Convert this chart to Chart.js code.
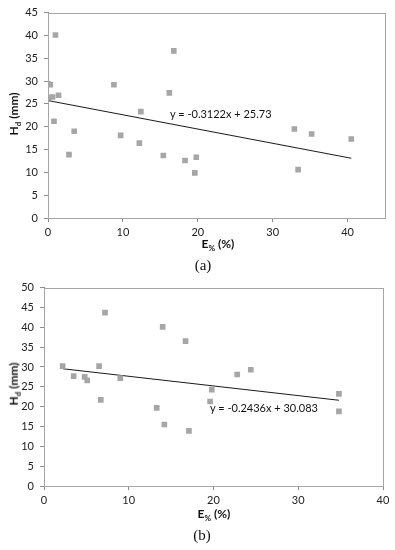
<!DOCTYPE html>
<html>
<head>
<meta charset="utf-8">
<script src="https://cdn.jsdelivr.net/npm/chart.js@4"></script>
<style>
    body { margin: 0; background: #fff; font-family: Lato, sans-serif; }
    .wrap { position: relative; width: 395px; height: 550px; }
    .panel { position: absolute; left: 0; width: 395px; height: 275px; }
    .txt { position: absolute; white-space: nowrap; color: #111; line-height: 1; }
    .ytitle { font-weight: bold; font-size: 12px; transform: translate(-50%, -50%) rotate(-90deg); }
    .xtitle { font-weight: bold; font-size: 12px; transform: translate(-50%, -50%); }
    .eq { font-size: 11px; transform: translateY(-50%); }
    .tag { font-family: "Liberation Serif", serif; font-size: 15px; transform: translate(-50%, -50%); }
    sub { font-size: 8px; }
</style>
</head>
<body>
<div class="wrap">
    <div class="panel" style="top:0"><canvas id="chartA"></canvas></div>
    <div class="panel" style="top:275px"><canvas id="chartB"></canvas></div>

    <div class="txt ytitle" style="left:15px;top:114px">H<sub>d</sub> (mm)</div>
    <div class="txt eq" style="left:170px;top:113px">y = -0.3122x + 25.73</div>
    <div class="txt xtitle" style="left:218px;top:245px">E<sub>%</sub> (%)</div>
    <div class="txt tag" style="left:203px;top:265px">(a)</div>

    <div class="txt ytitle" style="left:15px;top:384px">H<sub>d</sub> (mm)</div>
    <div class="txt eq" style="left:210px;top:407px">y = -0.2436x + 30.083</div>
    <div class="txt xtitle" style="left:214px;top:515px">E<sub>%</sub> (%)</div>
    <div class="txt tag" style="left:202px;top:535px">(b)</div>
</div>
<script>
// panel (a)
const eA = [0, 0.3, 0.1, 0.6, 1.4, 1.0, 0.8, 3.5, 2.8, 9.7, 8.8, 12.4, 12.2, 15.4, 16.2, 16.8, 18.3, 19.6, 19.8, 32.9, 35.2, 40.5, 33.4];
const hA = [29.4, 29.2, 26.4, 26.5, 26.9, 40.1, 21.2, 19.0, 13.9, 18.1, 29.2, 23.3, 16.4, 13.7, 27.4, 36.6, 12.6, 9.9, 13.3, 19.5, 18.4, 17.3, 10.6];
const trendXA = [0, 40.5];
const trendYA = [25.73, 13.09];

// panel (b)
const eB = [2.2, 3.5, 4.8, 5.1, 6.5, 6.7, 7.2, 9.0, 13.3, 14.0, 14.2, 16.7, 17.1, 19.6, 19.8, 22.8, 24.4, 34.8, 34.8];
const hB = [30.2, 27.7, 27.5, 26.6, 30.2, 21.7, 43.7, 27.2, 19.7, 40.1, 15.5, 36.5, 13.9, 21.3, 24.3, 28.1, 29.3, 23.2, 18.8];
const trendXB = [2.2, 34.8];
const trendYB = [29.55, 21.61];

const xTicksA = [0, 10, 20, 30, 40];
const xTicksB = [0, 10, 20, 30, 40];

const AXIS = '#8c8c8c';
const MARK = '#a6a6a6';

const frame = {
    id: 'frame',
    afterDraw(chart) {
        const { ctx, chartArea: a } = chart;
        ctx.save();
        ctx.strokeStyle = '#a6a6a6';
        ctx.lineWidth = 1;
        ctx.strokeRect(Math.round(a.left) + 0.5, Math.round(a.top) + 0.5,
            Math.round(a.right - a.left), Math.round(a.bottom - a.top));
        ctx.restore();
    },
};

function toPoints(xs, ys) {
    return xs.map((x, i) => ({ x, y: ys[i] }));
}

function makeChart(id, cfg) {
    const tickFont = { family: 'Lato', size: 11 };
    return new Chart(document.getElementById(id), {
        type: 'scatter',
        data: {
            datasets: [{
                data: toPoints(cfg.xs, cfg.ys),
                pointStyle: 'rect',
                pointRadius: 4,
                pointHoverRadius: 4,
                backgroundColor: MARK,
                borderWidth: 0,
            }, {
                type: 'line',
                data: toPoints(cfg.tx, cfg.ty),
                borderColor: '#1a1a1a',
                borderWidth: 1,
                pointRadius: 0,
                fill: false,
            }],
        },
        options: {
            responsive: false,
            animation: false,
            events: [],
            layout: { padding: { left: 0, right: cfg.right, top: cfg.top, bottom: 0 } },
            plugins: { legend: { display: false }, tooltip: { enabled: false } },
            scales: {
                x: {
                    type: 'linear',
                    min: 0, max: cfg.xmax,
                    ticks: { stepSize: 10, color: '#222', font: tickFont, padding: 4 },
                    afterBuildTicks: s => { s.ticks = cfg.xticks.map(v => ({ value: v })); },
                    afterFit: s => { s.height = cfg.xh; },
                    grid: { drawOnChartArea: false, tickLength: 4, color: AXIS },
                    border: { color: AXIS },
                },
                y: {
                    min: 0, max: cfg.ymax,
                    ticks: { stepSize: 5, color: '#222', font: tickFont, padding: 6 },
                    afterFit: s => { s.width = cfg.yw; },
                    grid: { drawOnChartArea: false, tickLength: 4, color: AXIS },
                    border: { color: AXIS },
                },
            },
        },
        plugins: [frame],
    });
}

function sizeCanvas(id) {
    const c = document.getElementById(id);
    c.width = 395; c.height = 275;
    c.style.width = '395px'; c.style.height = '275px';
}

sizeCanvas('chartA');
sizeCanvas('chartB');

makeChart('chartA', {
    xs: eA, ys: hA, tx: trendXA, ty: trendYA, xticks: xTicksA,
    xmax: 45, ymax: 45, yw: 48, xh: 57, right: 10, top: 11,
});
makeChart('chartB', {
    xs: eB, ys: hB, tx: trendXB, ty: trendYB, xticks: xTicksB,
    xmax: 40, ymax: 50, yw: 44, xh: 64, right: 12, top: 9,
});
</script>
</body>
</html>
